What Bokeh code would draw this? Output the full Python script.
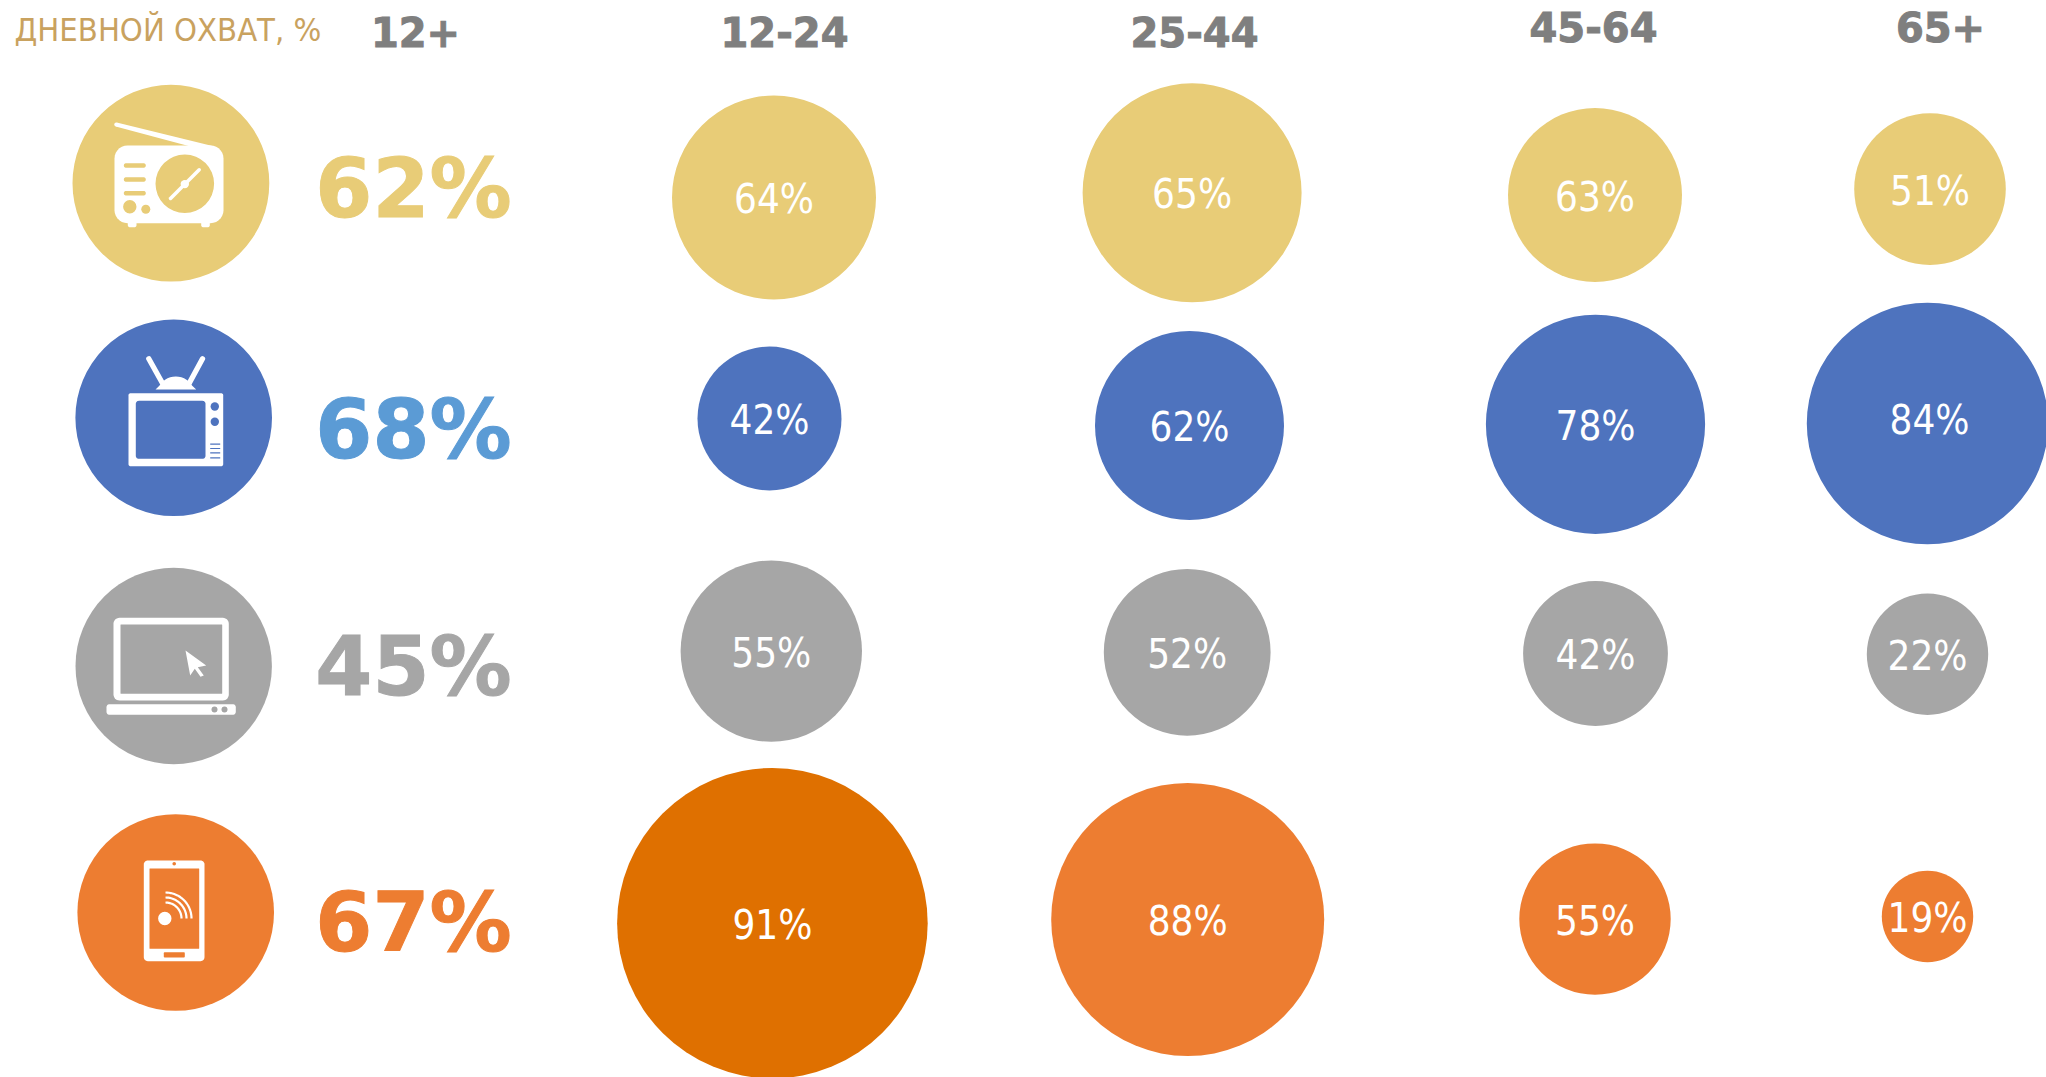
import numpy as np
from bokeh.plotting import figure
from bokeh.core.properties import value
from bokeh.models import Range1d
from bokeh.embed import file_html
from bokeh.resources import INLINE

# ---- data
title = "ДНЕВНОЙ ОХВАТ, %"
age_groups = ["12-24", "25-44", "45-64", "65+"]
total_label = "12+"
media = ["radio", "tv", "internet_pc", "internet_mobile"]
total_reach = [62, 68, 45, 67]
radio_reach = [64, 65, 63, 51]
tv_reach = [42, 62, 78, 84]
pc_reach = [55, 52, 42, 22]
mobile_reach = [91, 88, 55, 19]

# ---- layout of this infographic, in page pixels
PAGE_W, PAGE_H = 2046, 1077
radio_bubbles = [(773.5, 197, 102), (1191.6, 192.3, 109.5), (1594.5, 194.5, 87), (1929.5, 188.6, 75.8)]
tv_bubbles = [(769, 418, 72), (1189, 425, 94.5), (1595, 423.8, 109.6), (1927, 423, 120.7)]
pc_bubbles = [(770.8, 650.6, 90.7), (1186.7, 651.8, 83.4), (1595, 653, 72.4), (1927, 653.7, 60.7)]
mobile_bubbles = [(771.9, 922.7, 155.3), (1187.2, 919, 136.5), (1594.5, 918.6, 75.7), (1927, 916, 45.7)]
# the labels are not all centred on their bubbles (dx, dy per label, row by row)
label_shift = {(1, 3): (2, -5)}
LABEL_DY = 1.5
icon_discs = [(170.4, 182.7, 98.4), (173.2, 417.3, 98.3), (173.2, 665.5, 98.2), (175.2, 912, 98.3)]
header_xy = [(784, 31), (1194, 31), (1593, 26), (1940, 26)]
total_header_xy = (415, 31)
total_xy = [(413, 188), (413, 429), (413, 666), (413, 922)]

GOLD, BLUE, GREY, ORANGE, DARK_ORANGE = "#E8CC77", "#4E73BE", "#A6A6A6", "#ED7D31", "#DF7000"
TOTAL_COLORS = [GOLD, "#5B9BD5", GREY, ORANGE]
ROW_COLORS = [GOLD, BLUE, GREY, ORANGE]
HEAD = "#7F7F7F"
TITLE_C = "#C9A25F"
WHITE = "#FFFFFF"
COND = value("DejaVu Sans Condensed")
BOLD = value("DejaVu Sans")

p = figure(width=PAGE_W, height=PAGE_H, output_backend="svg",
           toolbar_location=None, min_border=0,
           x_range=Range1d(0, PAGE_W), y_range=Range1d(PAGE_H, 0))
p.axis.visible = False
p.grid.visible = False
p.outline_line_color = None
p.background_fill_color = WHITE
p.border_fill_color = WHITE


def rrect(x0, y0, x1, y1, r):
    xs, ys = [], []
    for cx, cy, a0 in [(x1 - r, y0 + r, -90), (x1 - r, y1 - r, 0), (x0 + r, y1 - r, 90), (x0 + r, y0 + r, 180)]:
        t = np.radians(np.linspace(a0, a0 + 90, 8))
        xs += list(cx + r * np.cos(t))
        ys += list(cy + r * np.sin(t))
    return xs, ys


def box(x0, y0, x1, y1, r, color):
    xs, ys = rrect(x0, y0, x1, y1, r)
    p.patch(xs, ys, fill_color=color, line_color=None)


def dot(x, y, r, color):
    p.circle([x], [y], radius=r, fill_color=color, line_color=None)


def seg(x0, y0, x1, y1, w, color, cap="round"):
    p.line([x0, x1], [y0, y1], line_width=w, line_color=color, line_cap=cap)


# icon discs
p.circle([d[0] for d in icon_discs], [d[1] for d in icon_discs], radius=[d[2] for d in icon_discs],
         fill_color=ROW_COLORS, line_color=None)

# radio icon
dot(115.7, 124, 1.9, WHITE)
p.patch([115.2, 116.2, 212, 208, 190], [125.9, 122.1, 145.5, 146, 146], fill_color=WHITE, line_color=None)
box(114, 145, 223, 222.7, 13, WHITE)
box(127.3, 220, 136, 226.7, 2, WHITE)
box(200.7, 220, 209.3, 226.7, 2, WHITE)
dot(184.3, 183.3, 29.3, GOLD)
seg(170, 198, 198.7, 169.3, 3.5, WHITE)
dot(184.3, 183.6, 4.2, WHITE)
for yy in (165, 179, 192.7):
    box(123.3, yy - 2.3, 145.3, yy + 2.3, 2.2, GOLD)
dot(129.3, 206.3, 6.7, GOLD)
dot(145.3, 208.7, 4.5, GOLD)

# tv icon
seg(148.3, 358.3, 161.7, 382.3, 5.3, WHITE)
seg(202, 358.3, 189, 382.3, 5.3, WHITE)
a = np.radians(np.linspace(-150, -30, 15))
p.patch([155] + list(175.3 + 19 * np.cos(a)) + [195.7], [389] + list(394.5 + 18.5 * np.sin(a) + 0) + [389],
        fill_color=WHITE, line_color=None)
box(128, 392.7, 222.7, 465.7, 2, WHITE)
box(135.3, 400.3, 205, 458.3, 3, BLUE)
dot(214.3, 406, 4.2, BLUE)
dot(214.3, 421.3, 4.2, BLUE)
for yy in (443.7, 448, 452.3, 457.4):
    seg(209.7, yy, 219.7, yy, 1.2, BLUE, cap="butt")

# laptop icon
box(113, 617.3, 228.3, 700, 6, WHITE)
box(120, 624, 221.7, 693.3, 0.5, GREY)
box(106, 703.7, 235.3, 714.3, 3, WHITE)
dot(214, 709, 3, GREY)
dot(224, 709, 3, GREY)
p.patch([185, 205.7, 197.3, 203.3, 200, 194.3, 189.7], [650, 665, 666.7, 675, 676.3, 668.3, 675],
        fill_color=WHITE, line_color=None)

# phone icon
box(143.3, 860, 204, 960.7, 4, WHITE)
box(149, 868, 198.7, 948.3, 0.5, ORANGE)
dot(173.7, 863.3, 1.8, ORANGE)
box(163.3, 951.7, 184.3, 957, 1, ORANGE)
dot(164.3, 918, 6.7, WHITE)
t = np.radians(np.linspace(-90, 0, 24))
for rad in (26, 21, 16):
    p.line(165 + rad * np.cos(t), 918 + rad * np.sin(t), line_width=2.2, line_color=WHITE)

# age-group bubbles and their labels
rows = [(radio_bubbles, radio_reach, GOLD), (tv_bubbles, tv_reach, BLUE),
        (pc_bubbles, pc_reach, GREY), (mobile_bubbles, mobile_reach, ORANGE)]
for ri, (bubbles, reach, color) in enumerate(rows):
    cols = [DARK_ORANGE if v == 91 else color for v in reach]
    xs = [b[0] for b in bubbles]
    ys = [b[1] for b in bubbles]
    p.circle(xs, ys, radius=[b[2] for b in bubbles], fill_color=cols, line_color=None)
    lx = [x + label_shift.get((ri, i), (0, 0))[0] for i, x in enumerate(xs)]
    ly = [y + LABEL_DY + label_shift.get((ri, i), (0, 0))[1] for i, y in enumerate(ys)]
    p.text(lx, ly, text=[f"{v}%" for v in reach], text_font=COND, text_font_size="40px",
           text_color=WHITE, text_align="center", text_baseline="middle")

# totals
p.text([q[0] for q in total_xy], [q[1] for q in total_xy], text=[f"{v}%" for v in total_reach],
       text_font=BOLD, text_font_style="bold", text_font_size="82px", text_color=TOTAL_COLORS,
       text_outline_color=TOTAL_COLORS, text_align="center", text_baseline="middle")

# headers
p.text([q[0] for q in header_xy], [q[1] for q in header_xy], text=age_groups, text_font=BOLD,
       text_font_style="bold", text_font_size="40px", text_color=HEAD, text_outline_color=HEAD,
       text_align="center", text_baseline="middle")
p.text([total_header_xy[0]], [total_header_xy[1]], text=[total_label], text_font=BOLD,
       text_font_style="bold", text_font_size="40px", text_color=HEAD, text_outline_color=HEAD,
       text_align="center", text_baseline="middle")
p.text([14], [29], text=[title], text_font=COND, text_font_size="32.5px", text_color=TITLE_C,
       text_align="left", text_baseline="middle")

open("out.html", "w").write(file_html(p, INLINE))
